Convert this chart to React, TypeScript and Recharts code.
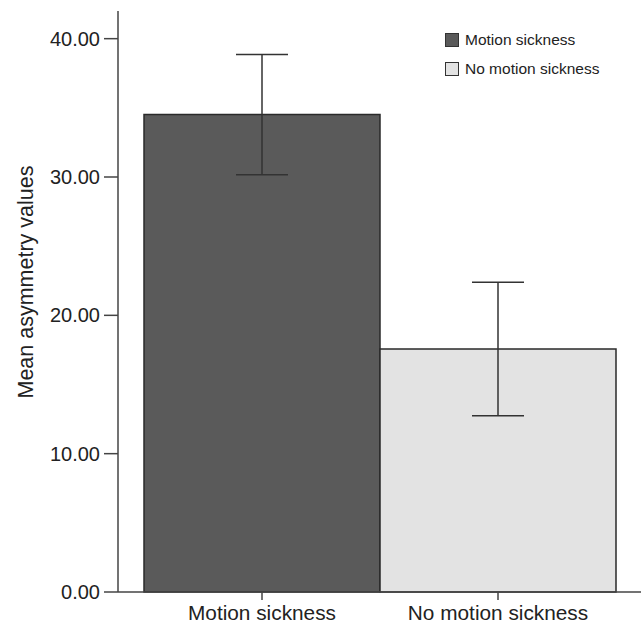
import React from 'react';
import { BarChart, Bar, XAxis, YAxis, ErrorBar, Cell, Legend } from 'recharts';

const categories = ['Motion sickness', 'No motion sickness'];
const means = [34.52, 17.57];
const ciLower = [30.17, 12.74];
const ciUpper = [38.86, 22.4];
const yTicks = [0, 10, 20, 30, 40];
const colors = ['#5a5a5a', '#e3e3e3'];

const data = categories.map((name, i) => ({
  name,
  value: means[i],
  err: [means[i] - ciLower[i], ciUpper[i] - means[i]],
}));

const FONT = '"Liberation Sans", Arial, Helvetica, sans-serif';

const renderLegend = () => (
  <div style={{ fontFamily: FONT, fontSize: 15.5, color: '#222' }}>
    {categories.map((c, i) => (
      <div key={c} style={{ display: 'flex', alignItems: 'center', height: 29 }}>
        <div
          style={{
            width: 12,
            height: 12,
            background: colors[i],
            border: '1.5px solid #333',
            marginRight: 6,
            boxSizing: 'content-box',
          }}
        />
        <span>{c}</span>
      </div>
    ))}
  </div>
);

const YLabel = () => (
  <text
    x={33}
    y={282}
    transform="rotate(-90 33 282)"
    textAnchor="middle"
    fontFamily={FONT}
    fontSize={21.5}
    fill="#222"
  >
    Mean asymmetry values
  </text>
);

export default function App() {
  return (
    <div style={{ position: 'absolute', left: 0, top: 0, background: '#fff' }}>
      <BarChart
        width={644}
        height={624}
        data={data}
        margin={{ top: 11, right: 3, bottom: 0, left: 18 }}
        barCategoryGap={0}
      >
        <XAxis
          dataKey="name"
          height={32}
          padding={{ left: 26, right: 25 }}
          axisLine={{ stroke: '#444', strokeWidth: 1.5 }}
          tickLine={{ stroke: '#444', strokeWidth: 1.5 }}
          tickSize={8}
          tickMargin={5}
          tick={{ fontFamily: FONT, fontSize: 20.8, fill: '#222' }}
        />
        <XAxis
          xAxisId="top"
          orientation="top"
          dataKey="name"
          height={0}
          tick={false}
          tickLine={false}
          axisLine={{ stroke: '#666', strokeWidth: 1.5 }}
        />
        <YAxis
          domain={[0, 42]}
          ticks={yTicks}
          width={100}
          interval={0}
          tickFormatter={(v: number) => v.toFixed(2)}
          axisLine={{ stroke: '#444', strokeWidth: 1.5 }}
          tickLine={{ stroke: '#444', strokeWidth: 1.5 }}
          tickSize={14}
          tickMargin={4}
          tick={{ fontFamily: FONT, fontSize: 20, fill: '#222' }}
          label={<YLabel />}
        />
        <YAxis
          yAxisId="right"
          orientation="right"
          domain={[0, 42]}
          width={0}
          tick={false}
          tickLine={false}
          axisLine={{ stroke: '#666', strokeWidth: 1.5 }}
        />
        <Legend
          layout="vertical"
          align="center"
          verticalAlign="middle"
          content={renderLegend}
          wrapperStyle={{ position: 'absolute', top: 25, left: 445, width: 195, height: 60 }}
        />
        <Bar dataKey="value" stroke="#2a2a2a" strokeWidth={1.5} isAnimationActive={false}>
          {data.map((d, i) => (
            <Cell key={d.name} fill={colors[i]} />
          ))}
          <ErrorBar dataKey="err" width={26} stroke="#333" strokeWidth={1.5} direction="y" isAnimationActive={false} />
        </Bar>
      </BarChart>
    </div>
  );
}
